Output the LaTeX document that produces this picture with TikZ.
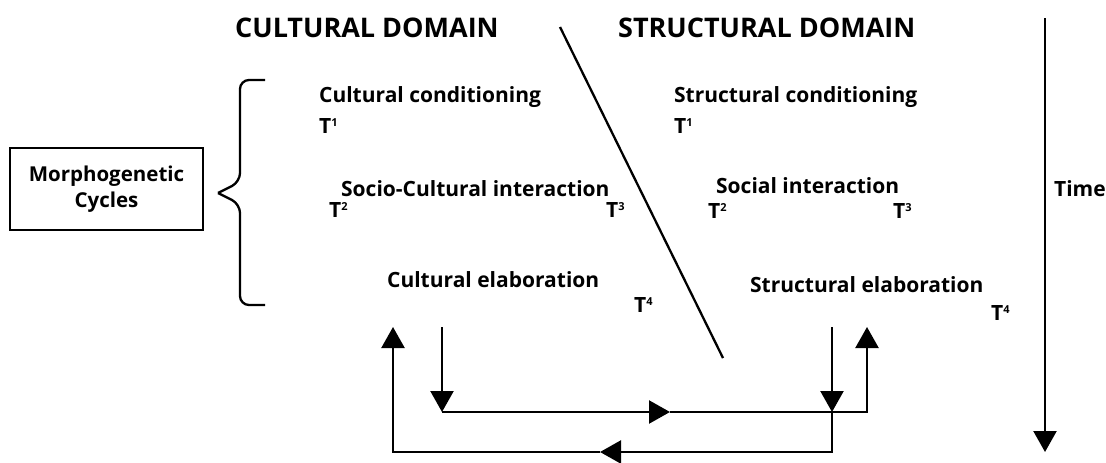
\documentclass[tikz,border=0pt]{standalone}
\usepackage{fontspec}
\setmainfont{Open Sans}
\usetikzlibrary{arrows.meta}
\newcommand\supnum[1]{\raisebox{6.5pt}{\fontsize{11}{11}\selectfont #1}}
\begin{document}
\begin{tikzpicture}[x=1pt,y=-1pt, line width=2.3pt,
 lbl/.style={anchor=base west, inner sep=0pt, font=\fontsize{21}{24}\selectfont\bfseries},
 ttl/.style={anchor=base west, inner sep=0pt, font=\fontsize{27}{32}\selectfont\bfseries},
 tip/.style={-{Triangle[length=21pt,width=23pt]}},
 boxst/.style={draw, line width=2.3pt, inner sep=0pt, minimum width=193pt, minimum height=82pt, align=center, font=\fontsize{20.5}{26}\selectfont\bfseries}]
\useasboundingbox (0,0) rectangle (1106,463);
% titles
\node[ttl] (ct) at (234,37) {CULTURAL DOMAIN};
\node[ttl] (st) at (617,37) {STRUCTURAL DOMAIN};
% divider
\coordinate (d0) at (560,27);
\coordinate (d1) at (723,358);
\draw (d0) -- (d1);
% time
\coordinate (t0) at (1045,18);
\coordinate (t1) at (1045,452);
\draw[tip] (t0) -- (t1);
\node[lbl] (time) at (1053,196) {Time};
% box + brace
\node[boxst] (box) at (106.5,189) {Morphogenetic\\Cycles};
\draw[rounded corners=9pt] (265,80) -- (240,80) -- (240,182) -- (218,193);
\draw[rounded corners=9pt] (218,193) -- (240,204) -- (240,305) -- (265,305);
% cultural labels
\node[lbl] (cc) at (318,102) {Cultural conditioning};
\node[lbl] (ct1) at (318,133) {T\supnum{1}};
\node[lbl] (sci) at (340,196) {Socio-Cultural interaction};
\node[lbl] (ct2) at (328,217) {T\supnum{2}};
\node[lbl] (ct3) at (605,217) {T\supnum{3}};
\node[lbl] (cel) at (386,287) {Cultural elaboration};
\node[lbl] (ct4) at (633,312) {T\supnum{4}};
% structural labels
\node[lbl] (sc) at (673,102) {Structural conditioning};
\node[lbl] (st1) at (673,133) {T\supnum{1}};
\node[lbl] (si) at (715,193) {Social interaction};
\node[lbl] (st2) at (707,218) {T\supnum{2}};
\node[lbl] (st3) at (892,218) {T\supnum{3}};
\node[lbl] (sel) at (749,292) {Structural elaboration};
\node[lbl] (st4) at (990,320) {T\supnum{4}};
% feedback arrows
\coordinate (a0) at (442,327);
\coordinate (a1) at (442,412);
\coordinate (am) at (670,412);
\coordinate (a2) at (867,412);
\coordinate (a3) at (867,327);
\coordinate (b0) at (832,327);
\coordinate (b1) at (832,412);
\coordinate (b2) at (832,452);
\coordinate (bm) at (600,452);
\coordinate (b3) at (393,452);
\coordinate (b4) at (393,327);
\draw[tip] (a0) -- (a1);
\draw[tip] (a1) -- (am);
\draw[tip] (am) -- (a2) -- (a3);
\draw[tip] (b0) -- (b1);
\draw[tip] (b1) -- (b2) -- (bm);
\draw[tip] (bm) -- (b3) -- (b4);
\end{tikzpicture}
\end{document}
